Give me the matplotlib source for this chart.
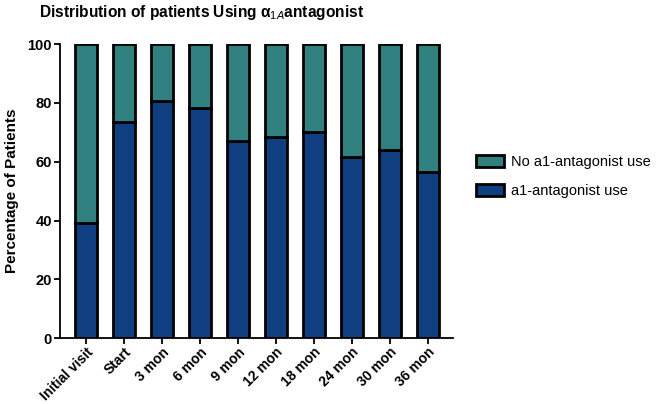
import matplotlib
matplotlib.use('Agg')
import matplotlib.pyplot as plt
import numpy as np

plt.rcParams['font.family'] = ['Liberation Sans', 'DejaVu Sans']
plt.rcParams['mathtext.fontset'] = 'custom'
plt.rcParams['mathtext.rm'] = 'Liberation Sans'
plt.rcParams['mathtext.bf'] = 'Liberation Sans:bold'

# visit labels and share of patients using an a1-antagonist (%)
visits = ['Initial visit', 'Start', '3 mon', '6 mon', '9 mon', '12 mon',
          '18 mon', '24 mon', '30 mon', '36 mon']
use_pct = [39.2, 73.4, 80.6, 78.1, 67.1, 68.5, 70.0, 61.7, 64.0, 56.5]
no_use_pct = [100 - v for v in use_pct]

blue = '#0f3f80'
teal = '#2f807f'

fig = plt.figure(figsize=(6.61, 4.04), dpi=100)
ax = fig.add_axes([0.091, 0.163, 0.595, 0.728])

x = np.arange(len(visits))
width = 0.58
b1 = ax.bar(x, use_pct, width, color=blue, edgecolor='black', linewidth=2,
            label='a1-antagonist use')
b2 = ax.bar(x, no_use_pct, width, bottom=use_pct, color=teal, edgecolor='black',
            linewidth=2, label='No a1-antagonist use')

ax.set_xlim(-0.68, len(visits) - 0.32)
ax.set_ylim(0, 100)
ax.set_yticks([0, 20, 40, 60, 80, 100])
ax.set_xticks(x, visits, rotation=45, ha='right', rotation_mode='anchor')
for lab in ax.get_xticklabels():
    lab.set_fontweight('bold')
    lab.set_fontsize(10)
for lab in ax.get_yticklabels():
    lab.set_fontweight('bold')
    lab.set_fontsize(10.5)
ax.tick_params(axis='both', width=1.3, length=4, pad=2)
ax.tick_params(axis='x', pad=1)
ax.spines['top'].set_visible(False)
ax.spines['right'].set_visible(False)
ax.spines['left'].set_linewidth(1.3)
ax.spines['bottom'].set_linewidth(1.3)
ax.set_ylabel('Percentage of Patients', fontsize=11, fontweight='bold', labelpad=6)

ax.legend(handles=[b2, b1], loc='center left', bbox_to_anchor=(1.025, 0.55),
          frameon=False, fontsize=10.5, handlelength=1.9, handleheight=0.9,
          handletextpad=0.5, labelspacing=1.0)

fig.text(0.305, 0.968, r'Distribution of patients Using $\mathbf{\alpha}_{1A}$antagonist',
         ha='center', va='center', fontsize=11.2, fontweight='bold')

fig.savefig('out.png', dpi=100)
